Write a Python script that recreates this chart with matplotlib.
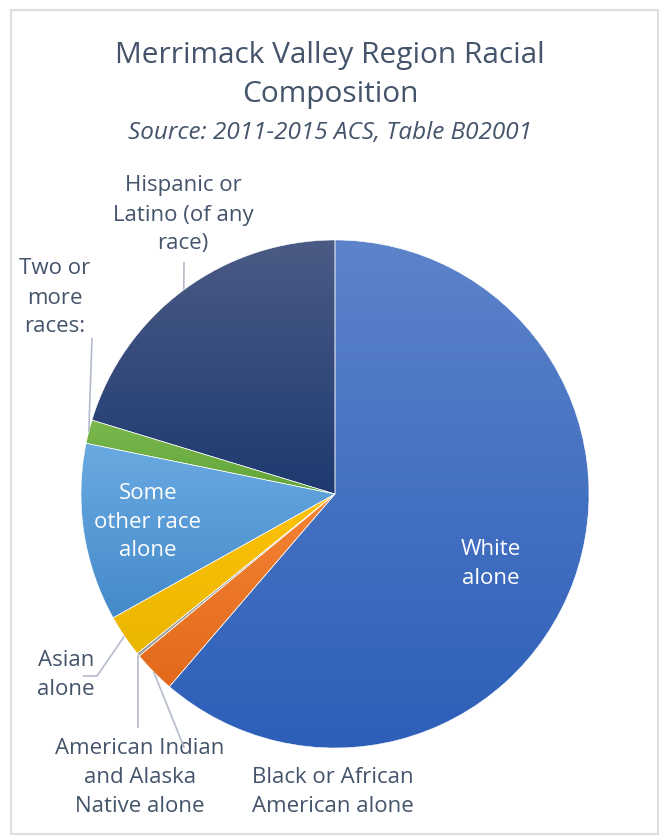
import numpy as np
import matplotlib.pyplot as plt
from matplotlib.colors import LinearSegmentedColormap
from matplotlib.patches import Rectangle

# data (percent of population)
categories = ["White alone", "Black or African American alone",
              "American Indian and Alaska Native alone", "Asian alone",
              "Some other race alone", "Two or more races:",
              "Hispanic or Latino (of any race)"]
values = [61.3, 2.7, 0.2, 2.7, 11.3, 1.5, 20.3]

# gradient colours per slice (top, bottom)
grad = [("#5d83ca", "#2d5fb9"), ("#f58434", "#e2691c"), ("#b0b0b0", "#9a9a9a"),
        ("#ffc20a", "#eab600"), ("#6aaae2", "#448ac9"), ("#79b84c", "#63a53a"),
        ("#4b5b85", "#1e3a70")]

text_col = "#44546a"
plt.rcParams['font.family'] = ['Open Sans', 'DejaVu Sans']

W, H = 660, 838
cx, cy, R = 335, 494, 254
fig = plt.figure(figsize=(W / 100, H / 100), dpi=100)
fig.patches.append(Rectangle((11 / W, 1 - 834 / H), 647 / W, 824 / H,
                             transform=fig.transFigure, fill=False,
                             edgecolor="#dedede", linewidth=1.5))

ax = fig.add_axes([(cx - R) / W, 1 - (cy + R) / H, 2 * R / W, 2 * R / H])
ax.axis("off")


def px(x, y):
    return (x - cx) / R, (cy - y) / R


wedges, _ = ax.pie(values, startangle=90, counterclock=False, radius=1,
                   center=(0, 0), frame=False,
                   wedgeprops=dict(edgecolor="white", linewidth=0.4))
ax.set_xlim(-1, 1)
ax.set_ylim(-1, 1)

# vertical gradient fill for each wedge
for w, (top, bot) in zip(wedges, grad):
    v = w.get_path().vertices
    y0, y1 = v[:, 1].min(), v[:, 1].max()
    x0, x1 = v[:, 0].min(), v[:, 0].max()
    cmap = LinearSegmentedColormap.from_list("g", [bot, top])
    g = np.linspace(0, 1, 256).reshape(-1, 1)
    im = ax.imshow(g, cmap=cmap, origin="lower", aspect="auto",
                   extent=[x0, x1, y0, y1], zorder=w.get_zorder())
    im.set_clip_path(w)
    w.set_facecolor("none")
    w.set_zorder(w.get_zorder() + 0.5)


def rim(w):
    a = np.deg2rad((w.theta1 + w.theta2) / 2)
    return np.cos(a), np.sin(a)


lead = dict(color="#b4bccb", lw=1.2, zorder=5, solid_capstyle="butt")
fs = 16
ls = 1.5

# Hispanic
ax.text(*px(183, 215), "Hispanic or\nLatino (of any\nrace)", ha="center",
        va="center", fontsize=fs, color=text_col, linespacing=ls)
x0, y0 = rim(wedges[6])
ax.plot([x0, px(184, 262)[0]], [y0, px(184, 262)[1]], **lead)

# Two or more
ax.text(*px(55, 298), "Two or\nmore\nraces:", ha="center", va="center",
        fontsize=fs, color=text_col, linespacing=ls)
x0, y0 = rim(wedges[5])
ax.plot([x0, px(92, 338)[0]], [y0, px(92, 338)[1]], **lead)

# Some other race (inside)
ax.text(*px(148, 522), "Some\nother race\nalone", ha="center", va="center",
        fontsize=fs, color="white", linespacing=ls, zorder=6)

# White (inside)
ax.text(*px(491, 564), "White\nalone", ha="center", va="center",
        fontsize=fs, color="white", linespacing=ls, zorder=6)

# Asian
ax.text(*px(66, 675), "Asian\nalone", ha="center", va="center",
        fontsize=fs, color=text_col, linespacing=ls)
x0, y0 = rim(wedges[3])
p1, p2 = px(97, 676), px(83, 676)
ax.plot([x0, p1[0], p2[0]], [y0, p1[1], p2[1]], **lead)

# American Indian
ax.text(*px(140, 777), "American Indian\nand Alaska\nNative alone",
        ha="center", va="center", fontsize=fs, color=text_col, linespacing=ls)
x0, y0 = rim(wedges[2])
p1 = px(140, 728)
ax.plot([x0, x0], [y0, p1[1]], **lead)

# Black
ax.text(*px(333, 792), "Black or African\nAmerican alone", ha="center",
        va="center", fontsize=fs, color=text_col, linespacing=ls)
x0, y0 = rim(wedges[1])
p1, p2 = px(200, 787), px(212, 787)
ax.plot([x0, p1[0], p2[0]], [y0, p1[1], p2[1]], **lead)

# titles
fig.text(0.5, 1 - 75 / H, "Merrimack Valley Region Racial\nComposition",
         ha="center", va="center", fontsize=21.5, color=text_col,
         linespacing=1.45)
fig.text(0.5, 1 - 133 / H, "Source: 2011-2015 ACS, Table B02001",
         ha="center", va="center", fontsize=17.5, style="italic", color=text_col)

fig.savefig("out.png", dpi=100)
